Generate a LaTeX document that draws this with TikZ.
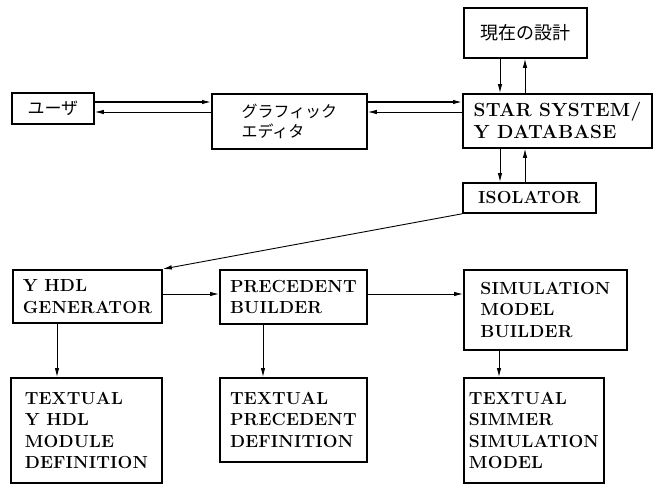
\documentclass[tikz,border=0pt]{standalone}
\usepackage{fontspec}
\newfontfamily\jp{Noto Sans CJK JP}
\newfontfamily\lbl{Latin Modern Roman}[LetterSpace=1.0]
\newfontfamily\lblwide{Latin Modern Roman}[LetterSpace=2.0]
\usetikzlibrary{arrows.meta}
\tikzset{
  box/.style={draw, line width=1.8pt, anchor=north west, align=left, inner sep=0pt, font=\lbl\fontsize{17.5}{21.5}\selectfont\bfseries},
  jbox/.style={draw, line width=1.8pt, anchor=north west, align=left, inner sep=0pt},
  arr/.style={line width=0.9pt, -{Latex[length=9pt,width=4.5pt]}},
}
\begin{document}
\begin{tikzpicture}[x=1pt,y=-1pt]
\useasboundingbox (0,0) rectangle (653,485);
% top part
\node[jbox, minimum width=82pt, minimum height=31pt, font=\jp\fontsize{17}{20}\selectfont] (user) at (11,92) {ユーザ};
\node[jbox, minimum width=155pt, minimum height=55pt, font=\jp\fontsize{16}{20}\selectfont] (graph) at (211,93) {グラフィック\\エディタ};
\node[jbox, minimum width=123pt, minimum height=50pt, font=\jp\fontsize{18}{20}\selectfont] (cur) at (463,7) {現在の設計};
\node[box, minimum width=189pt, minimum height=54pt, font=\lblwide\fontsize{19}{22}\selectfont\bfseries] (star) at (462,93) {STAR SYSTEM/\\Y DATABASE};
\node[box, minimum width=133pt, minimum height=30pt] (iso) at (462,182) {ISOLATOR};
% middle row
\node[box, minimum width=149pt, minimum height=53pt] (yhdl) at (12,269) {Y HDL\\GENERATOR};
\node[box, minimum width=147pt, minimum height=54pt] (prec) at (219,269) {PRECEDENT\\BUILDER};
\node[box, minimum width=163pt, minimum height=80pt] (sim) at (463,269) {SIMULATION\\MODEL\\BUILDER};
% bottom row
\node[box, minimum width=151pt, minimum height=105pt] (tyhdl) at (10,377) {TEXTUAL\\Y HDL\\MODULE\\DEFINITION};
\node[box, minimum width=147pt, minimum height=84pt] (tprec) at (219,377) {TEXTUAL\\PRECEDENT\\DEFINITION};
\node[box, minimum width=140pt, minimum height=105pt] (tsim) at (463,377) {TEXTUAL\\SIMMER\\SIMULATION\\MODEL};
% connectors
\draw[arr, line width=1.2pt] (user.east |- 0,102) -- (graph.west |- 0,102);
\draw[arr] (graph.west |- 0,112) -- (user.east |- 0,112);
\draw[arr, line width=1.2pt] (graph.east |- 0,102) -- (star.west |- 0,102);
\draw[arr] (star.west |- 0,112) -- (graph.east |- 0,112);
\draw[arr] (cur.south -| 500,0) -- (star.north -| 500,0);
\draw[arr] (star.north -| 525,0) -- (cur.south -| 525,0);
\draw[arr] (star.south -| 500,0) -- (iso.north -| 500,0);
\draw[arr] (iso.north -| 525,0) -- (star.south -| 525,0);
\draw[arr] (iso.south west) -- (yhdl.north east);
\draw[arr] (yhdl.east |- 0,294) -- (prec.west |- 0,294);
\draw[arr] (prec.east |- 0,294) -- (sim.west |- 0,294);
\draw[arr] (yhdl.south -| 57,0) -- (tyhdl.north -| 57,0);
\draw[arr] (prec.south -| 263,0) -- (tprec.north -| 263,0);
\draw[arr] (sim.south -| 499,0) -- (tsim.north -| 499,0);
\end{tikzpicture}
\end{document}
